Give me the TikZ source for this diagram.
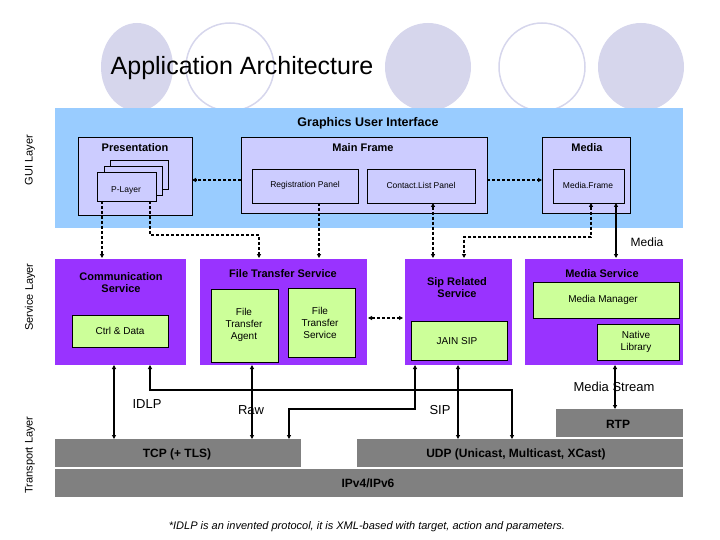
\documentclass[tikz,border=0pt]{standalone}
\usepackage{fontspec}
\setmainfont{Liberation Sans}
\usetikzlibrary{arrows.meta}
\definecolor{circ}{RGB}{214,214,236}
\definecolor{guiband}{RGB}{153,204,255}
\definecolor{lav}{RGB}{204,204,255}
\definecolor{purp}{RGB}{153,51,255}
\definecolor{grn}{RGB}{204,255,153}
\definecolor{gry}{RGB}{128,128,128}
\begin{document}
\begin{tikzpicture}[x=1pt,y=-1pt,
  box/.style={draw=black,line width=0.6pt,fill=lav},
  pbox/.style={fill=purp},
  gbox/.style={draw=black,line width=0.6pt,fill=grn},
  tbox/.style={fill=gry},
  dsh/.style={dashed,line width=1.1pt,dash pattern=on 3pt off 2pt},
  tip/.style={-{Triangle[length=4pt,width=4pt]}},
  tips/.style={{Triangle[length=4pt,width=4pt]}-{Triangle[length=4pt,width=4pt]}},
  solid2/.style={line width=1.1pt},
  lbl/.style={font=\fontsize{11}{12}\selectfont,align=center},
  blbl/.style={font=\bfseries\fontsize{11}{12}\selectfont,align=center},
  slbl/.style={font=\fontsize{9}{10.5}\selectfont,align=center},
  side/.style={rotate=90,font=\fontsize{11}{12}\selectfont}]
\useasboundingbox (0,0) rectangle (720,540);
% background circles
\fill[circ] (137,67) ellipse (36 and 44);
\draw[circ,line width=1.5pt] (230,67) ellipse (44 and 44);
\fill[circ] (428,67) ellipse (43 and 44);
\draw[circ,line width=1.5pt] (542,67) ellipse (43 and 44);
\fill[circ] (641,67) ellipse (43 and 44);
\node (title) at (242,68) {\fontsize{25}{28}\selectfont Application Architecture};
% side labels
\node[side] (sgui) at (30,160) {GUI Layer};
\node[side] (sserv) at (30,297) {Service Layer};
\node[side] (strans) at (30,455) {Transport Layer};
% GUI band
\fill[guiband] (55,108) rectangle (683,228);
\node[blbl,font=\bfseries\fontsize{12.5}{14}\selectfont] (gui) at (368,123) {Graphics User Interface};
\draw[box] (78,137) rectangle (192,215);
\node[blbl] (pres) at (135,148) {Presentation};
\draw[box] (110,160) rectangle (168,189);
\draw[box] (104,166) rectangle (162,195);
\draw[box] (97,172) rectangle (156,201);
\node[slbl,font=\fontsize{8.5}{10}\selectfont] (play) at (126,190) {P-Layer};
\coordinate (playb) at (97,215);
\draw[box] (241,137) rectangle (487,213);
\node[blbl] (mf) at (363,148) {Main Frame};
\draw[box] (252,169) rectangle (358,203);
\node[slbl,font=\fontsize{8.5}{10}\selectfont] (reg) at (305,185) {Registration Panel};
\draw[box] (367,169) rectangle (475,203);
\node[slbl,font=\fontsize{8.5}{10}\selectfont] (cl) at (421,185) {Contact.List Panel};
\draw[box] (542,137) rectangle (630,213);
\node[blbl] (med) at (587,148) {Media};
\draw[box] (553,169) rectangle (624,203);
\node[slbl,font=\fontsize{8.5}{10}\selectfont] (mfr) at (588,185) {Media.Frame};
% service boxes
\fill[pbox] (55,259) rectangle (186,365);
\node[blbl] (comm) at (121,283) {Communication\\Service};
\draw[gbox] (72,315) rectangle (168,347);
\node[slbl,font=\fontsize{10}{12}\selectfont] (ctrl) at (120,331) {Ctrl \& Data};
\fill[pbox] (200,259) rectangle (367,365);
\node[blbl] (fts) at (283,274) {File Transfer Service};
\draw[gbox] (211,289) rectangle (278,362);
\node[slbl,font=\fontsize{10}{12}\selectfont] (fta) at (244,325) {File\\Transfer\\Agent};
\draw[gbox] (288,288) rectangle (355,357);
\node[slbl,font=\fontsize{10}{12}\selectfont] (fts2) at (320,323) {File\\Transfer\\Service};
\fill[pbox] (405,259) rectangle (512,365);
\node[blbl] (sip) at (457,288) {Sip Related\\Service};
\draw[gbox] (411,321) rectangle (507,360);
\node[slbl,font=\fontsize{10}{12}\selectfont] (jain) at (457,341) {JAIN SIP};
\fill[pbox] (525,259) rectangle (683,365);
\node[blbl] (ms) at (602,274) {Media Service};
\draw[gbox] (533,282) rectangle (679,318);
\node[slbl,font=\fontsize{10}{12}\selectfont] (mm) at (603,300) {Media Manager};
\draw[gbox] (597,324) rectangle (679,360);
\node[slbl,font=\fontsize{10}{12}\selectfont] (nl) at (636,342) {Native\\Library};
% transport
\fill[tbox] (55,439) rectangle (301,467);
\node[blbl,font=\bfseries\fontsize{12}{14}\selectfont] (tcp) at (177,454) {TCP (+ TLS)};
\fill[tbox] (357,439) rectangle (683,467);
\node[blbl,font=\bfseries\fontsize{12}{14}\selectfont] (udp) at (516,454) {UDP (Unicast, Multicast, XCast)};
\fill[tbox] (556,409) rectangle (683,437);
\node[blbl,font=\bfseries\fontsize{12}{14}\selectfont] (rtp) at (618,424) {RTP};
\fill[tbox] (55,469) rectangle (683,497);
\node[blbl,font=\bfseries\fontsize{12}{14}\selectfont] (ip) at (368,483) {IPv4/IPv6};
% GUI connectors
\draw[dsh,tip] (241,180) -- (192,180);
\draw[dsh,tip] (487,180) -- (542,180);
\draw[dsh,tip] (102,201) -- (102,258);
\draw[dsh,tip] (150,201) -- (150,235) -- (259,235) -- (259,258);
\draw[dsh,tip] (319,203) -- (319,258);
\draw[dsh,tips] (433,203) -- (433,258);
\draw[dsh,{Triangle[length=4pt,width=4pt]}-{Triangle[length=4pt,width=4pt]}] (591,203) -- (591,237) -- (464,237) -- (464,258);
\draw[solid2,tips] (616,203) -- (616,258);
\node[lbl,font=\fontsize{12}{14}\selectfont] (medlbl) at (647,242) {Media};
\draw[dsh,tips] (368,318) -- (403,318);
% transport connectors
\draw[solid2,tips] (114,365) -- (114,439);
\node[lbl,font=\fontsize{13}{15}\selectfont] (idlp) at (147,404) {IDLP};
\draw[solid2,tips] (150,365) -- (150,390) -- (512,390) -- (512,439);
\draw[solid2,tips] (252,365) -- (252,439);
\node[lbl,font=\fontsize{13}{15}\selectfont] (raw) at (251,410) {Raw};
\draw[solid2,tips] (415,365) -- (415,409) -- (289,409) -- (289,439);
\draw[solid2,tips] (458,365) -- (458,439);
\node[lbl,font=\fontsize{13}{15}\selectfont] (siplbl) at (440,410) {SIP};
\draw[solid2,tips] (615,365) -- (615,409);
\node[lbl,font=\fontsize{13}{15}\selectfont] (mslbl) at (614,387) {Media Stream};
\node[font=\itshape\fontsize{11}{13}\selectfont] (foot) at (367,527) {*IDLP is an invented protocol, it is XML-based with target, action and parameters.};
\end{tikzpicture}
\end{document}
